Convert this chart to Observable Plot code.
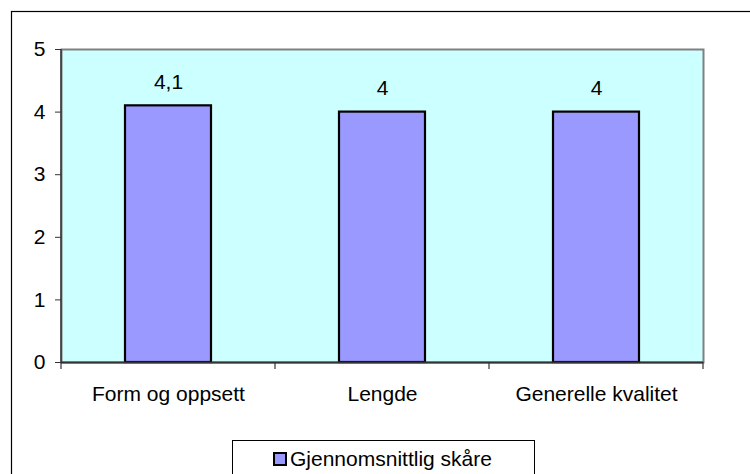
<!DOCTYPE html>
<html>
<head>
<meta charset="utf-8">
<script src="https://cdn.jsdelivr.net/npm/d3@7"></script>
<script src="https://cdn.jsdelivr.net/npm/@observablehq/plot@0.6"></script>
<style>
  html, body { margin: 0; padding: 0; background: white; }
  #chart svg { display: block; }
</style>
</head>
<body>
<div id="chart"></div>
<script>
const categories = ["Form og oppsett", "Lengde", "Generelle kvalitet"];
const values = [4.1, 4, 4];
const yTicks = [0, 1, 2, 3, 4, 5];
const seriesName = "Gjennomsnittlig skåre";

const data = categories.map((c, i) => ({cat: c, value: values[i]}));
const fmt = v => String(v).replace(".", ",");
const FONT = "Arial, 'Liberation Sans', sans-serif";

const plot = Plot.plot({
  width: 750,
  height: 474,
  marginLeft: 61,
  marginRight: 47,
  marginTop: 49,
  marginBottom: 112,
  style: {fontFamily: FONT, fontSize: "21px", background: "white", color: "black"},
  x: {domain: categories, paddingInner: 0.6, paddingOuter: 0.3, label: null},
  y: {domain: [0, 5], label: null},
  marks: [
    Plot.frame({fill: "#CCFFFF", stroke: "#808080", strokeWidth: 2}),
    Plot.barY(data, {x: "cat", y: "value", fill: "#9999FF", stroke: "black", strokeWidth: 2.2}),
    Plot.text(data, {x: "cat", y: "value", text: d => fmt(d.value), dy: -24, fontSize: 21, fill: "black"}),
    Plot.axisY({ticks: yTicks, tickSize: 6, tickPadding: 10, tickFormat: d => String(d), stroke: "#333"}),
    Plot.axisX({tickSize: 0, tickPadding: 24}),
    Plot.ruleY([0], {stroke: "#333", strokeWidth: 2})
  ]
});

document.getElementById("chart").appendChild(plot);

const svg = d3.select(plot);
const sx = plot.scale("x");
const sy = plot.scale("y");
const xr = sx.range;
const step = sx.step != null ? sx.step : (xr[1] - xr[0]) / categories.length;
const bw = sx.bandwidth;
const y0 = sy.apply(0);
const yTop = sy.apply(5);

// left axis line
svg.append("line")
  .attr("x1", xr[0]).attr("x2", xr[0])
  .attr("y1", yTop).attr("y2", y0 + 1)
  .attr("stroke", "#333").attr("stroke-width", 1.5);

// category boundary ticks
const bounds = categories.map(c => sx.apply(c) - (step - bw) / 2).concat([xr[1]]);
svg.append("g").selectAll("line").data(bounds).join("line")
  .attr("x1", d => d).attr("x2", d => d)
  .attr("y1", y0).attr("y2", y0 + 7)
  .attr("stroke", "#333").attr("stroke-width", 1.2);

// outer chart border
svg.append("rect")
  .attr("x", 11.5).attr("y", 11.5)
  .attr("width", 760).attr("height", 480)
  .attr("fill", "none").attr("stroke", "black").attr("stroke-width", 1.2);

// legend
const lg = svg.append("g");
lg.append("rect")
  .attr("x", 232.5).attr("y", 440.5)
  .attr("width", 302).attr("height", 50)
  .attr("fill", "white").attr("stroke", "black").attr("stroke-width", 1);
lg.append("rect")
  .attr("x", 274).attr("y", 453)
  .attr("width", 12).attr("height", 12)
  .attr("fill", "#9999FF").attr("stroke", "black").attr("stroke-width", 2);
lg.append("text")
  .attr("x", 290).attr("y", 466)
  .attr("text-anchor", "start")
  .attr("font-family", FONT).attr("font-size", 21)
  .attr("fill", "black")
  .text(seriesName);
</script>
</body>
</html>
